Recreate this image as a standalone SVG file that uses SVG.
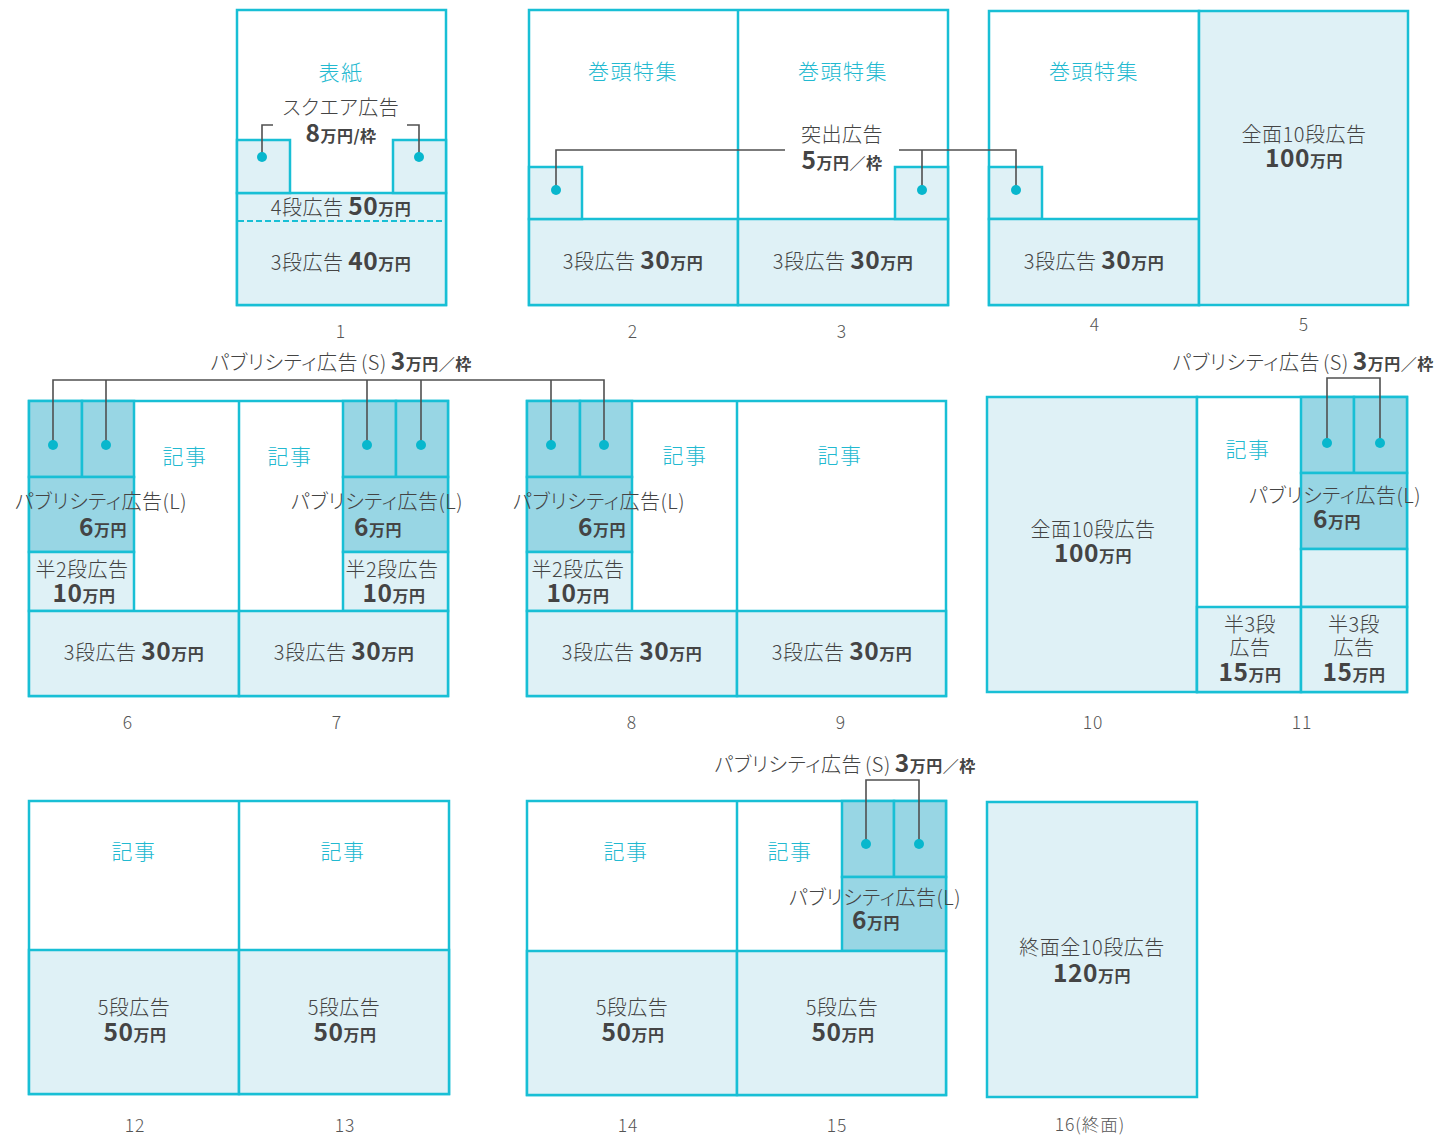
<svg xmlns="http://www.w3.org/2000/svg" width="1441" height="1138" viewBox="0 0 1441 1138">
<style>
.pgs rect{stroke:#18bfd5;stroke-width:2.5}
.w{fill:#fff}
.l{fill:#dff1f6}
.d{fill:#98d6e4}
.dash{stroke:#18bfd5;stroke-width:2;stroke-dasharray:6 3}
.sep{stroke:#18bfd5;stroke-width:2.5}
.ld{fill:none;stroke:#505050;stroke-width:1.6}
.dot{fill:#08b7cd}
text{font-family:"Noto Sans CJK JP","Noto Sans",sans-serif;font-size:20px;font-weight:300;fill:#444;text-anchor:middle;font-feature-settings:"palt";letter-spacing:0.5px}
.c{fill:#22b9d0;font-size:21px;letter-spacing:1.5px}
.b{font-weight:700;font-size:24.5px}
.u{font-weight:700;font-size:16px;letter-spacing:0.5px}
.n{font-size:17.5px;fill:#555;letter-spacing:1px}
</style>
<rect width="1441" height="1138" fill="#fff"/>

<g class="pgs">
<g id="page1">
<rect class="w" x="237" y="10" width="209" height="295"/>
<rect class="l" x="237" y="193" width="209" height="112"/>
<rect class="l" x="237" y="140" width="53" height="53"/>
<rect class="l" x="393" y="140" width="53" height="53"/>
<line class="dash" x1="238" y1="221" x2="445" y2="221"/>
<text class="c" x="341" y="80">表紙</text>
<text x="341" y="115">スクエア広告</text>
<text x="341" y="142"><tspan class="b">8</tspan><tspan class="u">万円/枠</tspan></text>
<text x="341" y="215">4段広告 <tspan class="b">50</tspan><tspan class="u">万円</tspan></text>
<text x="341" y="270">3段広告 <tspan class="b">40</tspan><tspan class="u">万円</tspan></text>
<text class="n" x="341" y="338">1</text>
</g>

<g id="page2-3">
<rect class="w" x="529" y="10" width="419" height="295"/>
<line class="sep" x1="738" y1="10" x2="738" y2="305"/>
<rect class="l" x="529" y="219" width="209" height="86"/>
<rect class="l" x="738" y="219" width="210" height="86"/>
<rect class="l" x="529" y="167" width="53" height="52"/>
<rect class="l" x="895" y="167" width="53" height="52"/>
<text class="c" x="633" y="79">巻頭特集</text>
<text class="c" x="843" y="79">巻頭特集</text>
<text x="842" y="142">突出広告</text>
<text x="842" y="169"><tspan class="b">5</tspan><tspan class="u">万円／枠</tspan></text>
<text x="633" y="269">3段広告 <tspan class="b">30</tspan><tspan class="u">万円</tspan></text>
<text x="843" y="269">3段広告 <tspan class="b">30</tspan><tspan class="u">万円</tspan></text>
<text class="n" x="633" y="338">2</text>
<text class="n" x="842" y="338">3</text>
</g>

<g id="page4-5">
<rect class="w" x="989" y="11" width="210" height="294"/>
<rect class="l" x="989" y="167" width="53" height="52"/>
<rect class="l" x="989" y="219" width="210" height="86"/>
<rect class="l" x="1199" y="11" width="209" height="294"/>
<text class="c" x="1094" y="79">巻頭特集</text>
<text x="1094" y="269">3段広告 <tspan class="b">30</tspan><tspan class="u">万円</tspan></text>
<text x="1304" y="142">全面10段広告</text>
<text x="1304" y="167"><tspan class="b">100</tspan><tspan class="u">万円</tspan></text>
<text class="n" x="1095" y="331">4</text>
<text class="n" x="1304" y="331">5</text>
</g>

<g id="page6-7">
<rect class="w" x="29" y="401" width="419" height="295"/>
<line class="sep" x1="239" y1="401" x2="239" y2="696"/>
<rect class="d" x="29" y="401" width="53" height="76"/>
<rect class="d" x="82" y="401" width="52" height="76"/>
<rect class="d" x="29" y="477" width="105" height="75"/>
<rect class="l" x="29" y="552" width="105" height="59"/>
<rect class="d" x="343" y="401" width="53" height="76"/>
<rect class="d" x="396" y="401" width="52" height="76"/>
<rect class="d" x="343" y="477" width="105" height="75"/>
<rect class="l" x="343" y="552" width="105" height="59"/>
<rect class="l" x="29" y="611" width="210" height="85"/>
<rect class="l" x="239" y="611" width="209" height="85"/>
<text class="c" x="185" y="464">記事</text>
<text class="c" x="290" y="464">記事</text>
<text x="101" y="509">パブリシティ広告(L)</text>
<text x="103" y="536"><tspan class="b">6</tspan><tspan class="u">万円</tspan></text>
<text x="377" y="509">パブリシティ広告(L)</text>
<text x="378" y="536"><tspan class="b">6</tspan><tspan class="u">万円</tspan></text>
<text x="82" y="577">半2段広告</text>
<text x="84" y="602"><tspan class="b">10</tspan><tspan class="u">万円</tspan></text>
<text x="392" y="577">半2段広告</text>
<text x="394" y="602"><tspan class="b">10</tspan><tspan class="u">万円</tspan></text>
<text x="134" y="660">3段広告 <tspan class="b">30</tspan><tspan class="u">万円</tspan></text>
<text x="344" y="660">3段広告 <tspan class="b">30</tspan><tspan class="u">万円</tspan></text>
<text x="341" y="370">パブリシティ広告<tspan dx="3">(S)</tspan><tspan class="b" dx="4">3</tspan><tspan class="u">万円／枠</tspan></text>
<text class="n" x="128" y="729">6</text>
<text class="n" x="337" y="729">7</text>
</g>

<g id="page8-9">
<rect class="w" x="527" y="401" width="419" height="295"/>
<line class="sep" x1="737" y1="401" x2="737" y2="696"/>
<rect class="d" x="527" y="401" width="53" height="76"/>
<rect class="d" x="580" y="401" width="52" height="76"/>
<rect class="d" x="527" y="477" width="105" height="75"/>
<rect class="l" x="527" y="552" width="105" height="59"/>
<rect class="l" x="527" y="611" width="210" height="85"/>
<rect class="l" x="737" y="611" width="209" height="85"/>
<text class="c" x="685" y="463">記事</text>
<text class="c" x="840" y="463">記事</text>
<text x="599" y="509">パブリシティ広告(L)</text>
<text x="602" y="536"><tspan class="b">6</tspan><tspan class="u">万円</tspan></text>
<text x="578" y="577">半2段広告</text>
<text x="578" y="602"><tspan class="b">10</tspan><tspan class="u">万円</tspan></text>
<text x="632" y="660">3段広告 <tspan class="b">30</tspan><tspan class="u">万円</tspan></text>
<text x="842" y="660">3段広告 <tspan class="b">30</tspan><tspan class="u">万円</tspan></text>
<text class="n" x="632" y="729">8</text>
<text class="n" x="841" y="729">9</text>
</g>

<g id="page10-11">
<rect class="l" x="987" y="397" width="210" height="295"/>
<rect class="w" x="1197" y="397" width="210" height="295"/>
<rect class="d" x="1301" y="397" width="53" height="76"/>
<rect class="d" x="1354" y="397" width="53" height="76"/>
<rect class="d" x="1301" y="473" width="106" height="76"/>
<rect class="l" x="1301" y="549" width="106" height="58"/>
<rect class="l" x="1197" y="607" width="104" height="85"/>
<rect class="l" x="1301" y="607" width="106" height="85"/>
<text class="c" x="1248" y="457">記事</text>
<text x="1335" y="503">パブリシティ広告(L)</text>
<text x="1337" y="528"><tspan class="b">6</tspan><tspan class="u">万円</tspan></text>
<text x="1093" y="537">全面10段広告</text>
<text x="1093" y="562"><tspan class="b">100</tspan><tspan class="u">万円</tspan></text>
<text x="1250" y="632">半3段</text>
<text x="1250" y="655">広告</text>
<text x="1250" y="681"><tspan class="b">15</tspan><tspan class="u">万円</tspan></text>
<text x="1354" y="632">半3段</text>
<text x="1354" y="655">広告</text>
<text x="1354" y="681"><tspan class="b">15</tspan><tspan class="u">万円</tspan></text>
<text x="1303" y="370">パブリシティ広告<tspan dx="3">(S)</tspan><tspan class="b" dx="4">3</tspan><tspan class="u">万円／枠</tspan></text>
<text class="n" x="1093" y="729">10</text>
<text class="n" x="1302" y="729">11</text>
</g>

<g id="page12-13">
<rect class="w" x="29" y="801" width="420" height="293"/>
<line class="sep" x1="239" y1="801" x2="239" y2="1094"/>
<rect class="l" x="29" y="950" width="210" height="144"/>
<rect class="l" x="239" y="950" width="210" height="144"/>
<text class="c" x="134" y="859">記事</text>
<text class="c" x="343" y="859">記事</text>
<text x="134" y="1015">5段広告</text>
<text x="135" y="1041"><tspan class="b">50</tspan><tspan class="u">万円</tspan></text>
<text x="344" y="1015">5段広告</text>
<text x="345" y="1041"><tspan class="b">50</tspan><tspan class="u">万円</tspan></text>
<text class="n" x="135" y="1132">12</text>
<text class="n" x="345" y="1132">13</text>
</g>

<g id="page14-15">
<rect class="w" x="527" y="801" width="419" height="294"/>
<line class="sep" x1="737" y1="801" x2="737" y2="1095"/>
<rect class="d" x="842" y="801" width="52" height="76"/>
<rect class="d" x="894" y="801" width="52" height="76"/>
<rect class="d" x="842" y="877" width="104" height="74"/>
<rect class="l" x="527" y="951" width="210" height="144"/>
<rect class="l" x="737" y="951" width="209" height="144"/>
<text class="c" x="626" y="859">記事</text>
<text class="c" x="790" y="859">記事</text>
<text x="875" y="905">パブリシティ広告(L)</text>
<text x="876" y="929"><tspan class="b">6</tspan><tspan class="u">万円</tspan></text>
<text x="632" y="1015">5段広告</text>
<text x="633" y="1041"><tspan class="b">50</tspan><tspan class="u">万円</tspan></text>
<text x="842" y="1015">5段広告</text>
<text x="843" y="1041"><tspan class="b">50</tspan><tspan class="u">万円</tspan></text>
<text x="845" y="772">パブリシティ広告<tspan dx="3">(S)</tspan><tspan class="b" dx="4">3</tspan><tspan class="u">万円／枠</tspan></text>
<text class="n" x="628" y="1132">14</text>
<text class="n" x="837" y="1132">15</text>
</g>

<g id="page16">
<rect class="l" x="987" y="802" width="210" height="295"/>
<text x="1092" y="955">終面全10段広告</text>
<text x="1092" y="982"><tspan class="b">120</tspan><tspan class="u">万円</tspan></text>
<text class="n" x="1090" y="1131">16(終面)</text>
</g>
</g>

<g id="connectors">
<path class="ld" d="M273,125H262V157M407,125H419V157"/>
<path class="ld" d="M785,150H556V190M899,150H1016V190M922,150V190"/>
<path class="ld" d="M53,445V380H604V445M106,380V445M367,380V445M421,380V445M551,380V445"/>
<path class="ld" d="M1327,443V378H1380V443"/>
<path class="ld" d="M866,844V780H919V844"/>
<g class="dot">
<circle cx="262" cy="157" r="5"/><circle cx="419" cy="157" r="5"/>
<circle cx="556" cy="190" r="5"/><circle cx="922" cy="190" r="5"/><circle cx="1016" cy="190" r="5"/>
<circle cx="53" cy="445" r="5"/><circle cx="106" cy="445" r="5"/><circle cx="367" cy="445" r="5"/><circle cx="421" cy="445" r="5"/><circle cx="551" cy="445" r="5"/><circle cx="604" cy="445" r="5"/>
<circle cx="1327" cy="443" r="5"/><circle cx="1380" cy="443" r="5"/>
<circle cx="866" cy="844" r="5"/><circle cx="919" cy="844" r="5"/>
</g>
</g>
</svg>
